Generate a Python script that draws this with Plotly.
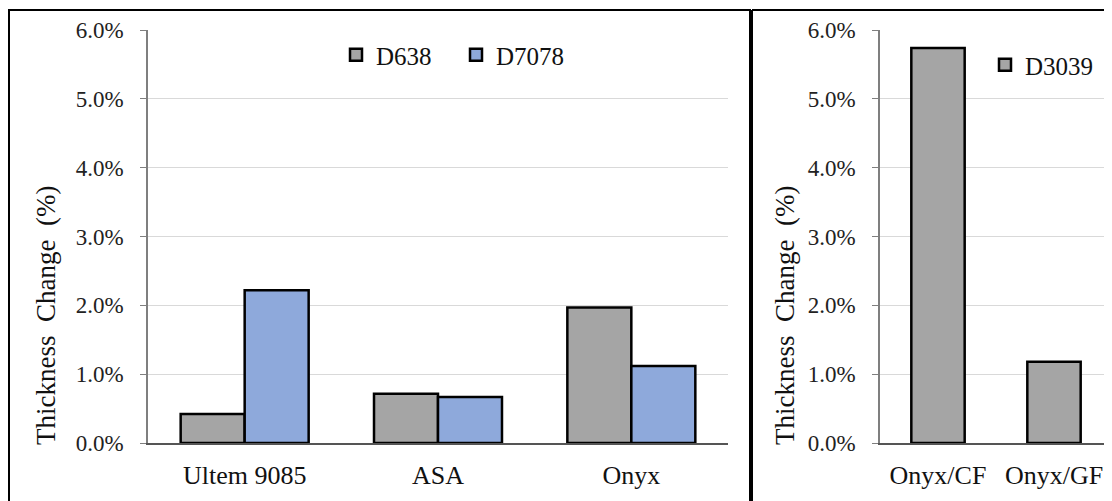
import plotly.graph_objects as go

# ---- data ----
left_categories = ["Ultem 9085", "ASA", "Onyx"]
d638_values = [0.0042, 0.00715, 0.0197]
d7078_values = [0.0222, 0.0067, 0.0112]

right_categories = ["Onyx/CF", "Onyx/GF"]
d3039_values = [0.0574, 0.0118]

y_ticks = [0.0, 0.01, 0.02, 0.03, 0.04, 0.05, 0.06]
y_title = "Thickness  Change  (%)"

FONT = "Liberation Serif"
GRAY = "#A5A5A5"
BLUE = "#8EA9DB"

# page has 8px body margin; work in page pixels and convert
OFF = 8
W, H = 1112 - OFF, 501 - OFF
L, R, T = 148 - OFF, 0, 30 - OFF
B = H - (443 - OFF)
pw = W - L - R
ph = H - T - B


def px2x(px):  # page px -> paper
    return (px - OFF - L) / pw


def px2y(py):
    return (H - B - (py - OFF)) / ph


fig = go.Figure()
fig.add_trace(go.Bar(x=left_categories, y=d638_values, name="D638",
                     marker=dict(color=GRAY, line=dict(color="black", width=2.5)),
                     xaxis="x", yaxis="y", legend="legend"))
fig.add_trace(go.Bar(x=left_categories, y=d7078_values, name="D7078",
                     marker=dict(color=BLUE, line=dict(color="black", width=2.5)),
                     xaxis="x", yaxis="y", legend="legend"))
fig.add_trace(go.Bar(x=right_categories, y=d3039_values, name="D3039",
                     marker=dict(color=GRAY, line=dict(color="black", width=2.5)),
                     xaxis="x2", yaxis="y2", legend="legend2", width=0.46))

yaxis_common = dict(range=[0, 0.06], tickvals=y_ticks, tickformat=".1%",
                    showgrid=True, gridcolor="#D9D9D9", gridwidth=1,
                    showline=True, linecolor="#7F7F7F", linewidth=1.5,
                    ticks="outside", ticklen=6, tickcolor="#7F7F7F",
                    ticklabelstandoff=12,
                    tickfont=dict(family=FONT, size=23, color="#222"),
                    zeroline=False, fixedrange=True)
xaxis_common = dict(showline=True, linecolor="#555", linewidth=1.5,
                    ticks="", tickfont=dict(family=FONT, size=26, color="#111"),
                    ticklabelstandoff=8, fixedrange=True)

fig.update_layout(
    width=W, height=H,
    margin=dict(l=L, r=R, t=T, b=B),
    paper_bgcolor="white", plot_bgcolor="white",
    barmode="group", bargap=0.338, bargroupgap=0,
    font=dict(family=FONT, color="#111"),
    xaxis=dict(domain=[0, px2x(728)], anchor="y", **xaxis_common),
    yaxis=dict(anchor="x", **yaxis_common),
    xaxis2=dict(domain=[px2x(880), 1], anchor="y2", **xaxis_common),
    yaxis2=dict(anchor="x2", **yaxis_common),
    legend=dict(orientation="h", x=px2x(336), y=px2y(55), xanchor="left", yanchor="middle",
                font=dict(family=FONT, size=25, color="#111"),
                bgcolor="rgba(0,0,0,0)", itemwidth=30, entrywidth=75),
    legend2=dict(orientation="h", x=px2x(985), y=px2y(65), xanchor="left", yanchor="middle",
                 font=dict(family=FONT, size=25, color="#111"),
                 bgcolor="rgba(0,0,0,0)", itemwidth=30),
    showlegend=True,
)

# y-axis titles (placed as in the reference, lower than plot centre)
for xc in (46, 785):
    fig.add_annotation(text=y_title, xref="paper", yref="paper",
                       x=px2x(xc), y=px2y(316), xanchor="center", yanchor="middle",
                       textangle=-90, showarrow=False,
                       font=dict(family=FONT, size=27, color="#111"))

# panel borders
fig.add_shape(type="rect", xref="paper", yref="paper",
              x0=px2x(9), x1=px2x(750), y0=px2y(520), y1=px2y(10),
              line=dict(color="black", width=2), fillcolor="rgba(0,0,0,0)", layer="above")
fig.add_shape(type="line", xref="paper", yref="paper",
              x0=px2x(752), x1=px2x(1120), y0=px2y(10), y1=px2y(10),
              line=dict(color="black", width=2), layer="above")
fig.add_shape(type="line", xref="paper", yref="paper",
              x0=px2x(752), x1=px2x(752), y0=px2y(520), y1=px2y(10),
              line=dict(color="black", width=2), layer="above")

fig.write_html("out.html")
